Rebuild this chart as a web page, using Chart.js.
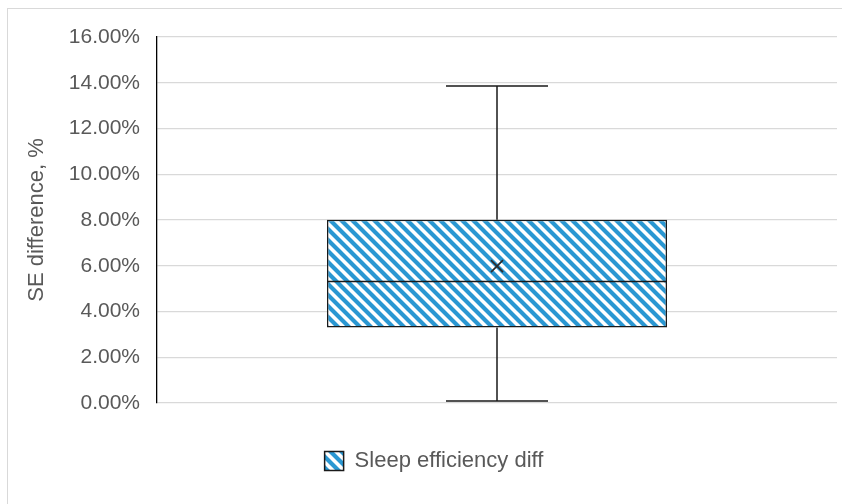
<!DOCTYPE html>
<html>
<head>
<meta charset="utf-8">
<script src="https://cdn.jsdelivr.net/npm/chart.js@4.4.1/dist/chart.umd.min.js"></script>
<style>
  html, body { margin: 0; padding: 0; background: #fff; }
  #wrap { position: relative; width: 842px; height: 504px; overflow: hidden; }
  #frame { position: absolute; left: 7px; top: 8px; width: 900px; height: 600px;
           border-top: 1.5px solid #d9d9d9; border-left: 1.5px solid #d9d9d9; }
  canvas { position: absolute; left: 0; top: 0; }
</style>
</head>
<body>
<div id="wrap">
  <div id="frame"></div>
  <canvas id="c" width="842" height="504"></canvas>
</div>
<script>
// ---- data (values in %) ----
const categories = ['Sleep efficiency diff'];
const whiskerMin = [0.09];
const quartile1 = [3.30];
const medianVals = [5.31];
const quartile3 = [8.01];
const whiskerMax = [13.86];
const meanVals = [5.98];
const yTicks = [0, 2, 4, 6, 8, 10, 12, 14, 16];
const axisTitle = 'SE difference, %';

// ---- hatch pattern ----
function makeHatch(color) {
  const s = 11;
  const pc = document.createElement('canvas');
  pc.width = s; pc.height = s;
  const g = pc.getContext('2d');
  g.fillStyle = '#ffffff';
  g.fillRect(0, 0, s, s);
  g.strokeStyle = color;
  g.lineWidth = 4.2;
  g.beginPath();
  g.moveTo(-s, -s); g.lineTo(2 * s, 2 * s);
  g.moveTo(-s, 0); g.lineTo(s, 2 * s);
  g.moveTo(0, -s); g.lineTo(2 * s, s);
  g.stroke();
  return g.createPattern(pc, 'repeat');
}
const ctx = document.getElementById('c').getContext('2d');
const hatch = makeHatch('#2a97d2');

const boxPlugin = {
  id: 'boxParts',
  afterDatasetsDraw(chart) {
    const y = chart.scales.y;
    const meta = chart.getDatasetMeta(0);
    const c = chart.ctx;
    meta.data.forEach((bar, i) => {
      const x = bar.x, w = bar.width;
      const capW = w * 0.30;
      const pMin = y.getPixelForValue(whiskerMin[i]);
      const pQ1 = y.getPixelForValue(quartile1[i]);
      const pMed = y.getPixelForValue(medianVals[i]);
      const pQ3 = y.getPixelForValue(quartile3[i]);
      const pMax = y.getPixelForValue(whiskerMax[i]);
      c.save();
      c.strokeStyle = '#1a1a1a';
      c.lineWidth = 1.5;
      c.beginPath();
      c.moveTo(x, pQ3); c.lineTo(x, pMax);
      c.moveTo(x, pQ1); c.lineTo(x, pMin);
      c.moveTo(x - capW / 2, pMax); c.lineTo(x + capW / 2, pMax);
      c.moveTo(x - capW / 2, pMin); c.lineTo(x + capW / 2, pMin);
      c.moveTo(x - w / 2, pMed); c.lineTo(x + w / 2, pMed);
      c.stroke();
      c.restore();
    });
  }
};

new Chart(ctx, {
  type: 'bar',
  data: {
    labels: categories,
    datasets: [
      {
        label: categories[0],
        data: categories.map((_, i) => [quartile1[i], quartile3[i]]),
        backgroundColor: hatch,
        borderColor: '#1a1a1a',
        borderWidth: 1.5,
        borderSkipped: false,
        barPercentage: 0.5,
        categoryPercentage: 1.0,
        order: 2
      },
      {
        type: 'line',
        label: 'Mean',
        data: meanVals,
        showLine: false,
        pointStyle: 'crossRot',
        pointRadius: 8.5,
        pointHoverRadius: 8.5,
        borderColor: '#2b2b2b',
        borderWidth: 1.7,
        order: 0
      }
    ]
  },
  options: {
    responsive: false,
    animation: false,
    events: [],
    layout: { autoPadding: false, padding: { left: 26, top: 37, right: 0, bottom: 22 } },
    plugins: {
      tooltip: { enabled: false },
      legend: {
        position: 'bottom',
        labels: {
          filter: (item) => item.datasetIndex === 0,
          boxWidth: 19,
          boxHeight: 19,
          padding: 12,
          color: '#595959',
          font: { family: 'Liberation Sans', size: 22 }
        }
      }
    },
    scales: {
      x: {
        type: 'category',
        display: true,
        grid: { display: false },
        border: { display: false },
        ticks: { display: false },
        afterFit: (s) => { s.height = 35; }
      },
      y: {
        min: 0,
        max: 16,
        afterBuildTicks: (s) => { s.ticks = yTicks.map(v => ({ value: v })); },
        ticks: {
          padding: 17,
          color: '#595959',
          font: { family: 'Liberation Sans', size: 21 },
          callback: (v) => Number(v).toFixed(2) + '%'
        },
        grid: { color: '#d9d9d9', lineWidth: 1.3, drawTicks: false },
        border: { display: true, color: '#000000', width: 1.3 },
        title: {
          display: true,
          text: axisTitle,
          color: '#595959',
          font: { family: 'Liberation Sans', size: 22, lineHeight: 1.0 },
          padding: 0
        },
        afterFit: (s) => { s.width = 131; }
      },
      yRight: {
        position: 'right',
        display: true,
        min: 0,
        max: 16,
        grid: { display: false },
        border: { display: false },
        ticks: { display: false },
        afterFit: (s) => { s.width = 5; }
      }
    }
  },
  plugins: [boxPlugin]
});
</script>
</body>
</html>
